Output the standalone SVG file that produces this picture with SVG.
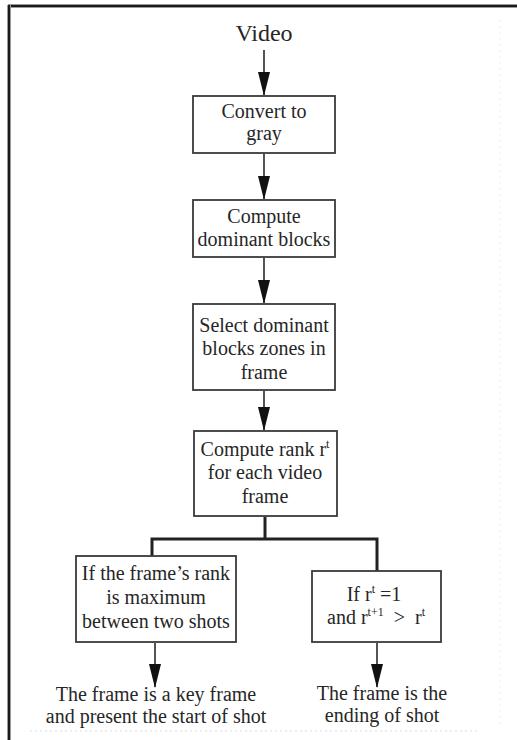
<svg xmlns="http://www.w3.org/2000/svg" width="517" height="740" viewBox="0 0 517 740">
<defs>
<style>
text{font-family:"Liberation Serif","Times New Roman",serif;fill:#262626;text-anchor:middle;font-size:20px}
.box{fill:#fff;stroke:#3a3a3a;stroke-width:1.8}
.ln{stroke:#2a2a2a;stroke-width:1.6;fill:none}
.br{stroke:#222;stroke-width:3;fill:none}
.sup{font-size:12px}
</style>
<marker id="ah" markerWidth="24" markerHeight="12" refX="23" refY="6" orient="auto" markerUnits="userSpaceOnUse" viewBox="0 0 24 12">
<path d="M0,0 L24,6 L0,12 Z" fill="#111"/>
</marker>
</defs>
<rect x="0" y="0" width="517" height="740" fill="#fff"/>
<g id="frame">
<line x1="8" y1="6" x2="517" y2="6" stroke="#9a9a9a" stroke-width="4"/>
<line x1="8" y1="6" x2="517" y2="6" stroke="#1a1a1a" stroke-width="2"/>
<line x1="9" y1="5" x2="9" y2="740" stroke="#9a9a9a" stroke-width="4"/>
<line x1="9" y1="5" x2="9" y2="740" stroke="#1a1a1a" stroke-width="2"/>
<line x1="30" y1="731" x2="480" y2="731" stroke="#ddd" stroke-width="1" stroke-dasharray="2 3"/>
<line x1="500" y1="20" x2="500" y2="725" stroke="#ececec" stroke-width="1" stroke-dasharray="2 4"/>
</g>
<g id="connectors">
<line class="ln" x1="264" y1="50" x2="264" y2="95" marker-end="url(#ah)"/>
<line class="ln" x1="264" y1="154" x2="264" y2="199" marker-end="url(#ah)"/>
<line class="ln" x1="264" y1="258" x2="264" y2="303" marker-end="url(#ah)"/>
<line class="ln" x1="264" y1="391" x2="264" y2="430" marker-end="url(#ah)"/>
<polyline class="br" points="265,517 265,539"/>
<polyline class="br" points="152,556 152,539 377,539 377,571"/>
<line class="ln" x1="155" y1="643" x2="155" y2="687" marker-end="url(#ah)"/>
<line class="ln" x1="377" y1="643" x2="377" y2="687" marker-end="url(#ah)"/>
</g>
<g id="video"><text x="264" y="41" style="font-size:24px">Video</text></g>
<g id="convert">
<rect class="box" x="193" y="96" width="142" height="57"/>
<text x="264" y="118">Convert to</text>
<text x="264" y="140">gray</text>
</g>
<g id="dominant">
<rect class="box" x="193" y="200" width="142" height="57"/>
<text x="264" y="223">Compute</text>
<text x="264" y="246">dominant blocks</text>
</g>
<g id="select">
<rect class="box" x="193" y="304" width="142" height="86"/>
<text x="264" y="332">Select dominant</text>
<text x="264" y="355">blocks zones in</text>
<text x="264" y="379">frame</text>
</g>
<g id="rank">
<rect class="box" x="194" y="431" width="143" height="85"/>
<text x="265" y="456">Compute rank r<tspan class="sup" dy="-8">t</tspan></text>
<text x="265" y="479">for each video</text>
<text x="265" y="503">frame</text>
</g>
<g id="maxrank">
<rect class="box" x="76" y="556" width="160" height="86"/>
<text x="156" y="580">If the frame’s rank</text>
<text x="156" y="604">is maximum</text>
<text x="156" y="628">between two shots</text>
</g>
<g id="condition">
<rect class="box" x="312" y="571" width="129" height="71"/>
<text x="374" y="601">If r<tspan class="sup" dy="-8">t</tspan><tspan dy="8">&#160;=1</tspan></text>
<text x="376" y="624">and r<tspan class="sup" dy="-8">t+1</tspan><tspan dy="8">&#160;&#160;&gt;&#160;&#160;r</tspan><tspan class="sup" dy="-8">t</tspan></text>
</g>
<g id="keyframe">
<text x="156" y="701">The frame is a key frame</text>
<text x="156" y="723">and present the start of shot</text>
</g>
<g id="ending">
<text x="382" y="700">The frame is the</text>
<text x="382" y="722">ending of shot</text>
</g>
</svg>
